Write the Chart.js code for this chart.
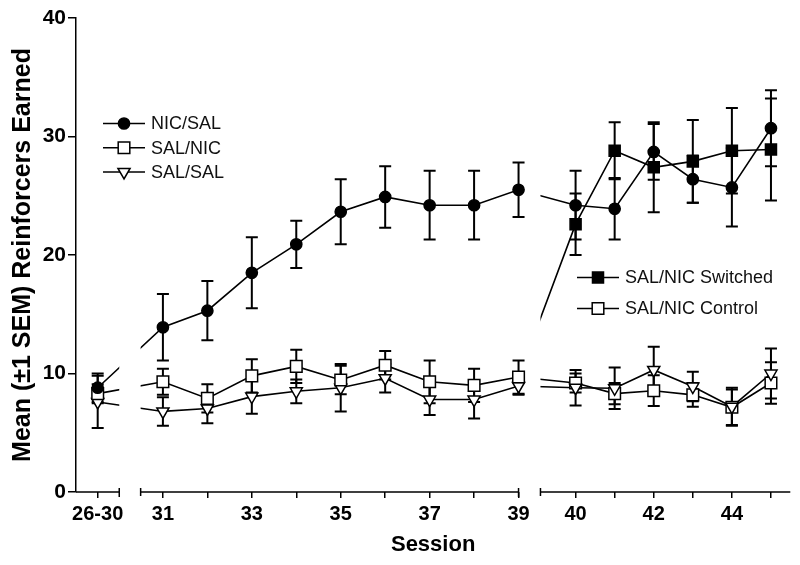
<!DOCTYPE html>
<html>
<head>
<meta charset="utf-8">
<script src="https://cdn.jsdelivr.net/npm/chart.js@4.4.0/dist/chart.umd.min.js"></script>
<style>
  html, body { margin: 0; padding: 0; background: #fff; }
  #wrap { width: 800px; height: 565px; position: relative; }
</style>
</head>
<body>
<div id="wrap"><canvas id="chart"></canvas></div>
<script>
// x categories (sessions) and which ones carry a label
const sessions = ['26-30', '31', '32', '33', '34', '35', '36', '37', '38', '39', '40', '41', '42', '43', '44', '45'];
const labeledSessions = ['26-30', '31', '33', '35', '37', '39', '40', '42', '44'];
const yTicks = [0, 10, 20, 30, 40];

// group means (26-30 ... 45)
const nicSal    = [8.8, 13.9, 15.3, 18.5, 20.9, 23.65, 24.9, 24.2, 24.2, 25.5, 24.2, 23.9, 28.7, 26.4, 25.7, 30.7];
const nicSalSem = [1.2, 2.8, 2.5, 3.0, 2.0, 2.75, 2.6, 2.9, 2.9, 2.3, 2.9, 2.6, 2.35, 2.0, 3.3, 3.2];
const salSal    = [7.6, 6.8, 7.05, 8.05, 8.5, 8.8, 9.6, 7.8, 7.8, 8.95, 8.8, 8.75, 10.3, 8.9, 7.2, 10.0];
const salSalSem = [2.2, 1.2, 1.25, 1.45, 1.0, 2.0, 1.2, 1.3, 1.6, 0.75, 1.5, 1.75, 1.95, 1.25, 1.6, 2.1];
// SAL/NIC (26-30 ... 39), then split into switched / control (40 ... 45)
const salNic    = [8.3, 9.3, 7.9, 9.8, 10.6, 9.45, 10.7, 9.3, 9.0, 9.7];
const salNicSem = [0.8, 1.1, 1.2, 1.4, 1.4, 1.2, 1.2, 1.8, 1.4, 1.4];
const switched    = [22.6, 28.8, 27.4, 27.9, 28.8, 28.9];
const switchedSem = [2.6, 2.4, 3.8, 3.5, 3.6, 4.3];
const control    = [9.2, 8.3, 8.55, 8.2, 7.15, 9.2];
const controlSem = [0.8, 0.9, 1.3, 1.0, 1.5, 1.75];

const FONT = "'Liberation Sans', Arial, Helvetica, sans-serif";

// broken x axis: scale units, spacing inside the middle block = 1
const xMin = -0.488, xMax = 15.58;
const segments = [
  { start: 0,  lo: xMin,  hi: 0.485, first: 0,     step: 1 },
  { start: 1,  lo: 0.966, hi: 9.467, first: 1.467, step: 1 },
  { start: 10, lo: 9.96,  hi: xMax,  first: 10.75, step: 0.879 }
];
function segOf(i) {
  let s = segments[0];
  segments.forEach(g => { if (i >= g.start) s = g; });
  return s;
}
function xPos(i) {
  const g = segOf(i);
  return g.first + g.step * (i - g.start);
}
function pts(values, offset) {
  return values.map((v, j) => ({ x: xPos(j + offset), y: v }));
}
const at40 = sessions.indexOf('40');
const at39 = sessions.indexOf('39');

const markerSets = [
  { label: 'NIC/SAL', data: pts(nicSal, 0), errors: nicSalSem, pointStyle: 'circle', pointRadius: 5.6, pointBackgroundColor: '#000' },
  { label: 'SAL/NIC', data: pts(salNic, 0), errors: salNicSem, pointStyle: 'rect', pointRadius: 8.2, pointBackgroundColor: '#fff' },
  { label: 'SAL/SAL', data: pts(salSal, 0), errors: salSalSem, pointStyle: 'triangle', pointRadius: 7, pointRotation: 180, pointBackgroundColor: '#fff' },
  { label: 'SAL/NIC Switched', data: pts(switched, at40), errors: switchedSem, pointStyle: 'rect', pointRadius: 7.8, pointBackgroundColor: '#000' },
  { label: 'SAL/NIC Control', data: pts(control, at40), errors: controlSem, pointStyle: 'rect', pointRadius: 8.2, pointBackgroundColor: '#fff' }
].map(d => Object.assign({
  showLine: false, order: 1, pointBorderColor: '#000', pointBorderWidth: 1.5, pointHoverRadius: d.pointRadius
}, d));

const from39 = { x: xPos(at39), y: salNic[at39] };
const lineSets = [
  pts(nicSal, 0),
  pts(salNic, 0),
  pts(salSal, 0),
  [from39].concat(pts(switched, at40)),
  [from39].concat(pts(control, at40))
].map(data => ({
  data: data, brokenClip: true, order: 2, pointRadius: 0, pointHoverRadius: 0,
  borderColor: '#000', borderWidth: 1.6, tension: 0, fill: false
}));

// clip connecting lines to the axis blocks
const brokenClip = {
  id: 'brokenClip',
  beforeDatasetDraw(chart, args) {
    const ds = chart.data.datasets[args.index];
    if (!ds.brokenClip) return;
    const ctx = chart.ctx, x = chart.scales.x;
    ctx.save();
    ctx.beginPath();
    segments.forEach(g => {
      const a = x.getPixelForValue(g.lo), b = x.getPixelForValue(g.hi);
      ctx.rect(a, 0, b - a, chart.height);
    });
    ctx.clip();
  },
  afterDatasetDraw(chart, args) {
    if (chart.data.datasets[args.index].brokenClip) chart.ctx.restore();
  }
};

// +-1 SEM bars under the markers
const errorBars = {
  id: 'errorBars',
  beforeDatasetsDraw(chart) {
    const ctx = chart.ctx, y = chart.scales.y;
    ctx.save();
    ctx.strokeStyle = '#000';
    ctx.lineWidth = 2;
    chart.data.datasets.forEach((ds, i) => {
      if (!ds.errors) return;
      chart.getDatasetMeta(i).data.forEach((el, j) => {
        const v = ds.data[j].y, e = ds.errors[j];
        const t = y.getPixelForValue(v + e), b = y.getPixelForValue(v - e);
        ctx.beginPath();
        ctx.moveTo(el.x, t); ctx.lineTo(el.x, b);
        ctx.moveTo(el.x - 6, t); ctx.lineTo(el.x + 6, t);
        ctx.moveTo(el.x - 6, b); ctx.lineTo(el.x + 6, b);
        ctx.stroke();
      });
    });
    ctx.restore();
  }
};

// x axis drawn in blocks with end marks
const brokenAxis = {
  id: 'brokenAxis',
  afterDraw(chart) {
    const ctx = chart.ctx, x = chart.scales.x, yb = chart.chartArea.bottom;
    ctx.save();
    ctx.strokeStyle = '#000';
    ctx.lineWidth = 1.5;
    segments.forEach((g, k) => {
      const a = x.getPixelForValue(g.lo), b = x.getPixelForValue(g.hi);
      ctx.beginPath();
      ctx.moveTo(a, yb); ctx.lineTo(b, yb);
      if (k > 0) { ctx.moveTo(a, yb - 4); ctx.lineTo(a, yb + 4); }
      if (k < segments.length - 1) { ctx.moveTo(b, yb - 4); ctx.lineTo(b, yb + 5); }
      ctx.stroke();
    });
    ctx.restore();
  }
};

function drawMarker(ctx, ds, cx, cy) {
  const r = ds.pointRadius;
  ctx.save();
  ctx.translate(cx, cy);
  ctx.rotate((ds.pointRotation || 0) * Math.PI / 180);
  ctx.beginPath();
  if (ds.pointStyle === 'circle') {
    ctx.arc(0, 0, r, 0, Math.PI * 2);
  } else if (ds.pointStyle === 'rect') {
    const h = r * Math.SQRT1_2;
    ctx.rect(-h, -h, 2 * h, 2 * h);
  } else {
    for (let k = 0; k < 3; k++) {
      const a = k * 2 * Math.PI / 3;
      ctx.lineTo(r * Math.sin(a), -r * Math.cos(a));
    }
    ctx.closePath();
  }
  ctx.fillStyle = ds.pointBackgroundColor;
  ctx.fill();
  ctx.lineWidth = 1.5;
  ctx.strokeStyle = '#000';
  ctx.stroke();
  ctx.restore();
}

// two legend blocks inside the plot
const legendGroups = [
  { x: 103, y: 123.5, gap: 24.2, items: [0, 1, 2] },
  { x: 577, y: 277.5, gap: 31, items: [3, 4] }
];
const inlineLegend = {
  id: 'inlineLegend',
  afterDraw(chart) {
    const ctx = chart.ctx;
    ctx.save();
    ctx.font = '18px ' + FONT;
    ctx.textBaseline = 'middle';
    ctx.textAlign = 'left';
    legendGroups.forEach(g => {
      g.items.forEach((idx, k) => {
        const ds = markerSets[idx];
        const y = g.y + k * g.gap;
        ctx.strokeStyle = '#000';
        ctx.lineWidth = 1.5;
        ctx.beginPath();
        ctx.moveTo(g.x, y); ctx.lineTo(g.x + 42, y);
        ctx.stroke();
        drawMarker(ctx, ds, g.x + 21, y);
        ctx.fillStyle = '#111';
        ctx.fillText(ds.label, g.x + 48, y + 1);
      });
    });
    ctx.restore();
  }
};

const ctx = document.getElementById('chart').getContext('2d');
const chart = new Chart(ctx, {
  type: 'line',
  data: { datasets: markerSets.concat(lineSets) },
  plugins: [brokenClip, errorBars, brokenAxis, inlineLegend],
  options: {
    responsive: true,
    maintainAspectRatio: false,
    animation: false,
    events: [],
    layout: { padding: { top: 18, right: 9, left: 0, bottom: 0 } },
    plugins: { legend: { display: false }, tooltip: { enabled: false } },
    scales: {
      x: {
        type: 'linear',
        min: xMin,
        max: xMax,
        afterBuildTicks: s => { s.ticks = sessions.map((_, i) => ({ value: xPos(i) })); },
        afterFit: s => { s.height = 73; },
        ticks: {
          autoSkip: false,
          maxRotation: 0,
          padding: 4,
          color: '#000',
          font: { family: FONT, size: 20, weight: 'bold' },
          callback: (v, i) => labeledSessions.includes(sessions[i]) ? sessions[i] : ''
        },
        grid: { drawOnChartArea: false, drawTicks: true, tickLength: 6, color: '#000', lineWidth: 1.5 },
        border: { display: false },
        title: {
          display: true, text: 'Session', color: '#000',
          font: { family: FONT, size: 22, weight: 'bold' },
          padding: { top: 0, bottom: 7 }
        }
      },
      y: {
        min: yTicks[0],
        max: yTicks[yTicks.length - 1],
        afterBuildTicks: s => { s.ticks = yTicks.map(v => ({ value: v })); },
        afterFit: s => { s.width = 76; },
        ticks: { padding: 2, color: '#000', font: { family: FONT, size: 21, weight: 'bold' } },
        grid: { drawOnChartArea: false, drawTicks: true, tickLength: 8, color: '#000', lineWidth: 1.5 },
        border: { display: true, color: '#000', width: 1.5 },
        title: {
          display: true, text: 'Mean (\u00b11 SEM) Reinforcers Earned', color: '#000',
          font: { family: FONT, size: 25, weight: 'bold' },
          padding: { top: 8, bottom: 0 }
        }
      }
    }
  }
});
</script>
</body>
</html>
